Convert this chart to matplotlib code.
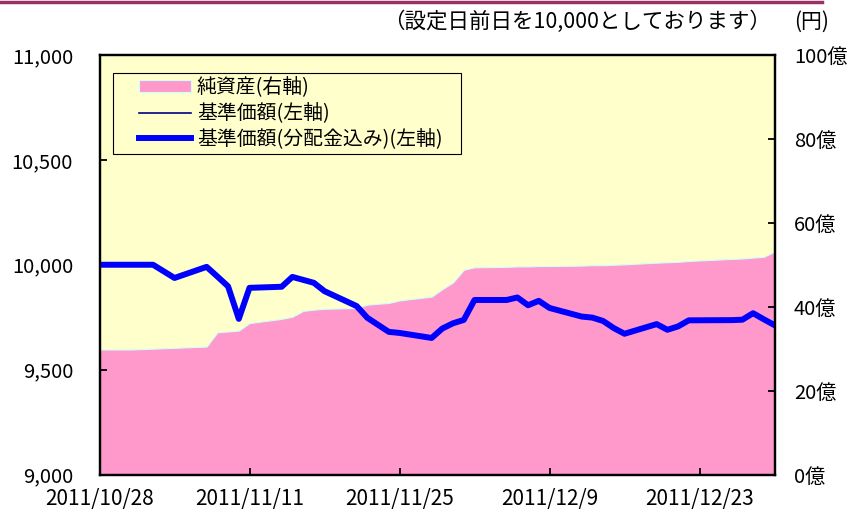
import matplotlib
matplotlib.use('Agg')
import matplotlib.pyplot as plt
from matplotlib.lines import Line2D
from matplotlib.legend_handler import HandlerLine2D, HandlerPolyCollection
import pandas as pd

plt.rcParams['font.family'] = ['Noto Sans CJK JP', 'DejaVu Sans']

# 営業日 (11/3, 11/23, 12/23 は休日)
dates = ['2011-10-28', '2011-10-31', '2011-11-01', '2011-11-02', '2011-11-04',
         '2011-11-07', '2011-11-08', '2011-11-09', '2011-11-10', '2011-11-11',
         '2011-11-14', '2011-11-15', '2011-11-16', '2011-11-17', '2011-11-18',
         '2011-11-21', '2011-11-22', '2011-11-24', '2011-11-25', '2011-11-28',
         '2011-11-29', '2011-11-30', '2011-12-01', '2011-12-02', '2011-12-05',
         '2011-12-06', '2011-12-07', '2011-12-08', '2011-12-09', '2011-12-12',
         '2011-12-13', '2011-12-14', '2011-12-15', '2011-12-16', '2011-12-19',
         '2011-12-20', '2011-12-21', '2011-12-22', '2011-12-26', '2011-12-27',
         '2011-12-28', '2011-12-29', '2011-12-30']

# 基準価額 (円)
nav = [10000, 10000, 10000, 10000, 9937,
       9990, 9944, 9897, 9742, 9890,
       9895, 9942, 9928, 9914, 9874,
       9803, 9747, 9680, 9675, 9651,
       9696, 9721, 9737, 9832, 9832,
       9844, 9807, 9828, 9794, 9753,
       9748, 9732, 9698, 9671, 9717,
       9690, 9706, 9735, 9736, 9738,
       9769, 9740, 9712]

# 分配金なしのため基準価額と同じ
nav_dist = list(nav)

# 純資産 (億円)
net_assets = [29.8, 29.8, 29.9, 30.0, 30.2,
              30.5, 33.9, 34.1, 34.3, 36.1,
              37.1, 37.6, 39.0, 39.3, 39.5,
              39.7, 40.5, 40.9, 41.5, 42.4,
              44.2, 45.8, 48.8, 49.4, 49.5,
              49.6, 49.6, 49.7, 49.7, 49.8,
              49.9, 49.9, 50.0, 50.1, 50.5,
              50.6, 50.7, 50.9, 51.4, 51.5,
              51.7, 51.9, 53.1]

left_ticks = [9000, 9500, 10000, 10500, 11000]
right_ticks = [0, 20, 40, 60, 80, 100]
x_ticks = ['2011-10-28', '2011-11-11', '2011-11-25', '2011-12-09', '2011-12-23']

labels = ['純資産(右軸)', '基準価額(左軸)', '基準価額(分配金込み)(左軸)']


# 凡例の記号を右寄せにする (左側に余白)
class LineRight(HandlerLine2D):
    def create_artists(self, legend, orig_handle, xdescent, ydescent,
                       width, height, fontsize, trans):
        shift = 0.29 * width
        return super().create_artists(legend, orig_handle, xdescent - shift,
                                      ydescent, width - shift, height,
                                      fontsize, trans)


class AreaRight(HandlerPolyCollection):
    def create_artists(self, legend, orig_handle, xdescent, ydescent,
                       width, height, fontsize, trans):
        shift = 0.29 * width
        return super().create_artists(legend, orig_handle, xdescent - shift,
                                      ydescent, width - shift, height,
                                      fontsize, trans)


x = pd.to_datetime(dates)
xt = pd.to_datetime(x_ticks)

fig = plt.figure(figsize=(8.5, 5.15), dpi=100)
ax = fig.add_axes([99.5 / 850, 1 - 474.5 / 515, 675 / 850, 419.5 / 515])
ax2 = ax.twinx()

# 純資産 (右軸) は背面
ax2.patch.set_visible(True)
ax2.set_facecolor('#FFFFCC')
area = ax2.fill_between(x, net_assets, 0, facecolor='#FF99CC',
                        edgecolor='#CCFFFF', linewidth=0.8)
ax2.set_ylim(0, 100)
ax.set_zorder(ax2.get_zorder() + 1)
ax.patch.set_visible(False)

line1, = ax.plot(x, nav, color='#000080', linewidth=1.2)
line2, = ax.plot(x, nav_dist, color='#0000FF', linewidth=4.3)

ax.set_xlim(x[0], x[-1])
ax.set_ylim(9000, 11000)
ax.set_yticks(left_ticks)
ax.set_yticklabels([f'{v:,}' for v in left_ticks])
ax.set_xticks(xt)
ax.set_xticklabels([f'{d.year}/{d.month}/{d.day}' for d in xt])
ax2.set_yticks(right_ticks)
ax2.set_yticklabels([f'{v}億' for v in right_ticks])

for a in (ax, ax2):
    for s in a.spines.values():
        s.set_color('black')
        s.set_linewidth(1.6)

ax.tick_params(axis='y', direction='in', length=5, width=1.3, pad=19, labelsize=14.5)
ax.tick_params(axis='x', direction='in', length=5, width=1.3, pad=10, labelsize=15)
ax2.tick_params(axis='y', direction='in', length=5, width=1.3, pad=14, labelsize=14.5)

leg = ax.legend([area, line1, line2], labels, loc='upper left',
                bbox_to_anchor=(0.02, 0.5, 0.5156, 0.457), mode='expand',
                frameon=True, fancybox=False,
                edgecolor='black', facecolor='#FFFFCC', framealpha=1,
                handlelength=3.7, handleheight=0.55, handletextpad=0.3,
                labelspacing=0.24, borderpad=0.22, borderaxespad=0,
                fontsize=14.3,
                handler_map={Line2D: LineRight(), type(area): AreaRight()})
leg.get_frame().set_linewidth(0.8)

fig.text(577 / 850, 1 - 22 / 515, '（設定日前日を10,000としております）',
         ha='center', va='center', fontsize=15.5)
fig.text(812 / 850, 1 - 22 / 515, '(円)', ha='center', va='center', fontsize=15)

# 上部の飾り線
fig.add_artist(Line2D([0, 822 / 850], [1 - 1.5 / 515, 1 - 1.5 / 515],
                      color='#993366', linewidth=2.5))

plt.savefig('out.png', dpi=100)
